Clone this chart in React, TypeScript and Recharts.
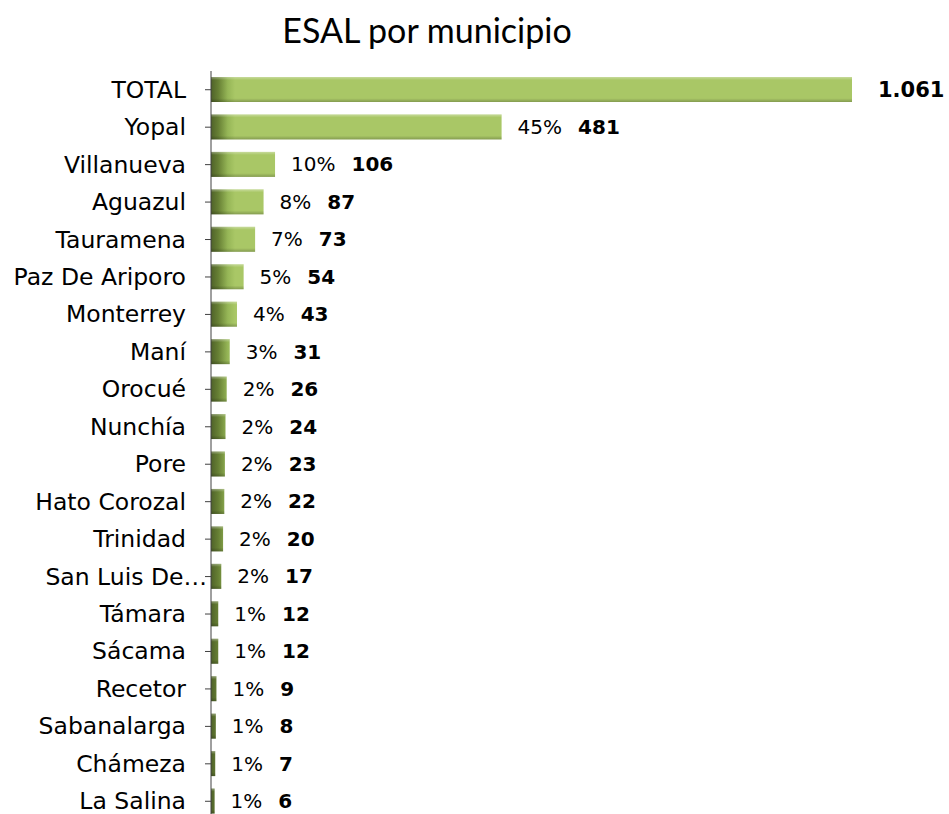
import React from "react";
import { BarChart, Bar, XAxis, YAxis, LabelList } from "recharts";

const municipios = [
  "TOTAL",
  "Yopal",
  "Villanueva",
  "Aguazul",
  "Tauramena",
  "Paz De Ariporo",
  "Monterrey",
  "Maní",
  "Orocué",
  "Nunchía",
  "Pore",
  "Hato Corozal",
  "Trinidad",
  "San Luis De Palenque",
  "Támara",
  "Sácama",
  "Recetor",
  "Sabanalarga",
  "Chámeza",
  "La Salina",
];

const esal = [1061, 481, 106, 87, 73, 54, 43, 31, 26, 24, 23, 22, 20, 17, 12, 12, 9, 8, 7, 6];

const porcentajes = ["", "45%", "10%", "8%", "7%", "5%", "4%", "3%", "2%", "2%", "2%", "2%", "2%", "2%", "1%", "1%", "1%", "1%", "1%", "1%"];

const data = municipios.map((name, i) => ({ name, value: esal[i], pct: porcentajes[i] }));

const FONT = "'DejaVu Sans', Verdana, sans-serif";
const MAX_LABEL = 14;

// category tick, long names get cut like in the original sheet
const CategoryTick = (props: any) => {
  const { x, y, payload } = props;
  const full: string = payload.value;
  const cut = full.length > MAX_LABEL;
  const text = cut ? full.split(" ").slice(0, 3).join(" ") + "…" : full;
  return (
    <text
      x={cut ? x + 21 : x}
      y={y}
      textAnchor="end"
      dominantBaseline="central"
      fontFamily={FONT}
      fontSize={23.5}
      fill="#000"
    >
      {text}
    </text>
  );
};

const BarShape = (props: any) => {
  const { x, y, width, height, index } = props;
  if (!width || width <= 0) return null;
  const id = `hg-${index}`;
  return (
    <g>
      <defs>
        <linearGradient id={id} gradientUnits="userSpaceOnUse" x1={x} y1={0} x2={x + 24} y2={0}>
          <stop offset="0" stopColor="#4F6229" />
          <stop offset="0.3" stopColor="#667F34" />
          <stop offset="0.7" stopColor="#96B657" />
          <stop offset="1" stopColor="#A9C766" />
        </linearGradient>
      </defs>
      <rect x={x} y={y} width={width} height={height} fill={`url(#${id})`} />
      <rect x={x} y={y} width={width} height={height} fill="url(#vshade)" />
    </g>
  );
};

const ValueLabel = (props: any) => {
  const { x, y, width, height, index } = props;
  const row = data[index];
  const cy = y + height / 2;
  if (!row.pct) {
    return (
      <text x={x + width + 26} y={cy} dominantBaseline="central" fontFamily={FONT} fontSize={21} fontWeight="bold" fill="#000">
        {row.value.toLocaleString("es-CO")}
      </text>
    );
  }
  return (
    <text x={x + width + 16} y={cy} dominantBaseline="central" fontFamily={FONT} fontSize={20} fill="#000">
      <tspan>{row.pct}</tspan>
      <tspan dx={16} fontWeight="bold">
        {row.value}
      </tspan>
    </text>
  );
};

export default function App() {
  return (
    <div
      style={{
        position: "absolute",
        left: 0,
        top: 0,
        width: 949,
        height: 814,
        overflow: "hidden",
        background: "#fff",
      }}
    >
      <div
        style={{
          position: "absolute",
          left: 0,
          width: 854,
          top: 9,
          textAlign: "center",
          fontFamily: "Lato, sans-serif",
          fontSize: 34,
          color: "#000",
        }}
      >
        ESAL por municipio
      </div>
      <BarChart
        width={949}
        height={820}
        data={data}
        layout="vertical"
        margin={{ top: 71, right: 97, left: 0, bottom: 0 }}
      >
        <defs>
          <linearGradient id="vshade" x1="0" y1="0" x2="0" y2="1">
            <stop offset="0" stopColor="#ffffff" stopOpacity={0.35} />
            <stop offset="0.12" stopColor="#ffffff" stopOpacity={0} />
            <stop offset="0.85" stopColor="#000000" stopOpacity={0} />
            <stop offset="1" stopColor="#000000" stopOpacity={0.22} />
          </linearGradient>
        </defs>
        <XAxis type="number" domain={[0, 1061]} hide />
        <YAxis
          type="category"
          dataKey="name"
          width={211}
          interval={0}
          tickSize={6}
          tickMargin={19}
          axisLine={{ stroke: "#404040" }}
          tickLine={{ stroke: "#404040" }}
          tick={<CategoryTick />}
        />
        <Bar dataKey="value" barSize={25} shape={<BarShape />} isAnimationActive={false}>
          <LabelList dataKey="value" content={<ValueLabel />} />
        </Bar>
      </BarChart>
    </div>
  );
}
